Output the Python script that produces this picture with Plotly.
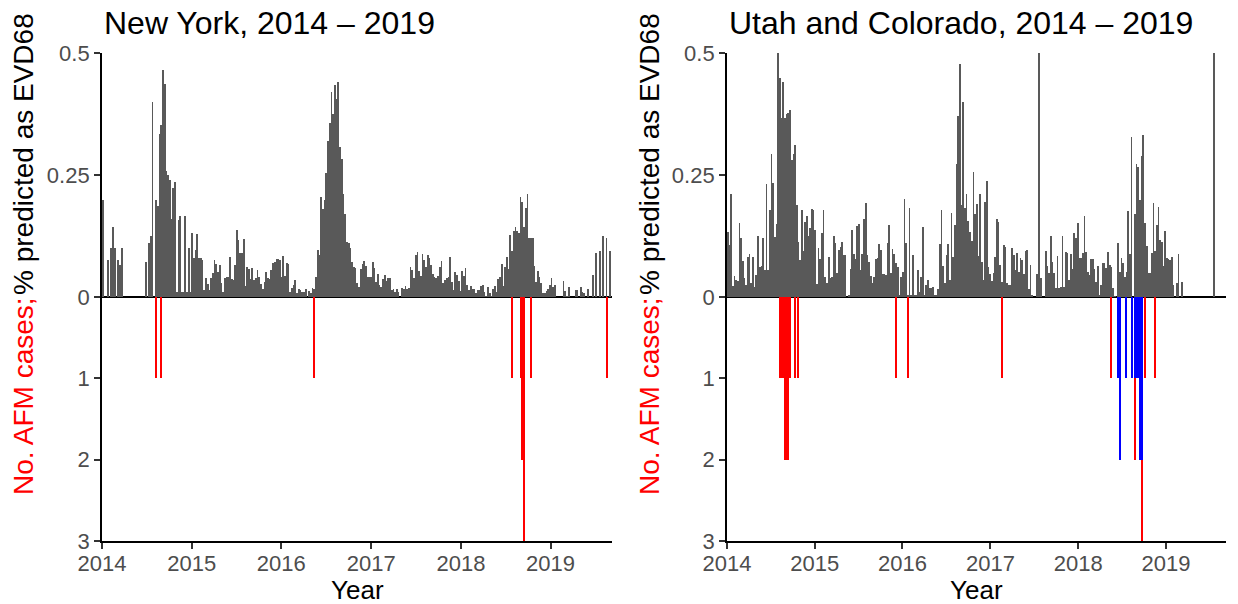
import pandas as pd
import plotly.graph_objects as go

# Weekly share of sequences predicted as EV-D68 (fraction), one value per week
# starting with the week ending 2014-01-04.
ny_pct = [
    0.199, 0, 0, 0.076, 0, 0.10, 0.144, 0.10, 0, 0.076, 0.066, 0.10,
    0, 0, 0, 0, 0, 0, 0, 0, 0, 0, 0, 0, 0,
    0.072, 0, 0.11, 0.126, 0.40, 0,
    0.199, 0.187, 0.334, 0.352, 0.466, 0.436,
    0.258, 0.25, 0.24, 0.16, 0.223, 0.235,
    0.01, 0.158, 0.167, 0.01, 0.01, 0.167, 0.01, 0.10, 0.01, 0.132,
    0.08, 0.096, 0.13, 0.08, 0.08, 0.076, 0.014, 0.038, 0.027, 0.014,
    0.038, 0.05, 0.076, 0.068, 0.052, 0.066, 0.029, 0.011, 0.038, 0.041,
    0.042, 0.081, 0.037, 0.035, 0.066, 0.137, 0.117, 0.091, 0.091, 0.118,
    0.023, 0.061, 0.057, 0.036, 0.059, 0.035, 0.038, 0.055, 0.042, 0.027,
    0.016, 0.031, 0.052, 0.038, 0.036, 0.055, 0.069, 0.072, 0.078, 0.077,
    0.076, 0.042, 0.085, 0.043, 0.069, 0.068, 0.01, 0.018, 0.024, 0.035,
    0.009, 0.016, 0.014, 0.01, 0.01, 0.016, 0.0, 0.013, 0.009, 0.019,
    0.017, 0.042, 0.096, 0.087, 0.204, 0.18, 0.199, 0.255, 0.32, 0.357,
    0.42, 0.376, 0.434, 0.405, 0.44, 0.308, 0.283, 0.212, 0.171, 0.113,
    0.11, 0.10, 0.072, 0.062, 0.059, 0.029, 0.021, 0.057, 0.068, 0.074,
    0.064, 0.04, 0.042, 0.04, 0.072, 0.059, 0.031, 0.048, 0.025, 0.021,
    0.037, 0.045, 0.033, 0.038, 0.038, 0.014, 0.016, 0.011, 0.016, 0.01,
    0.0, 0.018, 0.016, 0.023, 0.017, 0.018, 0.061, 0.055, 0.038, 0.086,
    0.092, 0.054, 0.043, 0.088, 0.076, 0.062, 0.087, 0.079, 0.066, 0.048,
    0.042, 0.038, 0.044, 0.061, 0.074, 0.029, 0.035, 0.038, 0.042, 0.083,
    0.03, 0.014,
    0.051, 0.046, 0.033, 0.013, 0.053, 0.043, 0.059, 0.025, 0.014, 0.023,
    0.016, 0.016, 0.008, 0.014, 0.014, 0.023, 0.025, 0.011, 0.002, 0.02,
    0.008, 0.002, 0.016, 0.023, 0.01, 0.037, 0.042, 0.068, 0.023, 0.061,
    0.082, 0.057, 0.127, 0.095, 0.135, 0.144, 0.135, 0.132, 0.204, 0.195,
    0.143, 0.183, 0.211, 0.121, 0.121, 0.12, 0.064, 0.031, 0.054, 0.04,
    0.028, 0.008, 0.008, 0.013, 0.017, 0.025, 0.039, 0.021, 0.025,
    0, 0, 0, 0, 0.033, 0.013, 0.002, 0.02, 0, 0, 0, 0.014, 0.014, 0,
    0.02, 0.011, 0.008, 0, 0.016, 0, 0, 0.045, 0, 0.091, 0, 0.094, 0,
    0.125, 0, 0.121, 0, 0.094,
]

ut_co_pct = [
    0.134, 0.107, 0.211, 0.023, 0.043, 0.035, 0.033, 0.151, 0.12, 0.074,
    0.038, 0.025, 0.083, 0.088, 0.028, 0.081, 0.021, 0.045, 0.125, 0.061,
    0.064, 0.12, 0.055, 0.232, 0.055, 0.178, 0.293, 0.234, 0.122, 0.15,
    0.50, 0.448, 0.366, 0.44, 0.366, 0.376, 0.378, 0.383, 0.281, 0.293,
    0.311, 0.189, 0.113, 0.076, 0.178, 0.094, 0.154, 0.166, 0.124, 0.141,
    0.18, 0.178, 0.137, 0.027, 0.1, 0.077, 0.132, 0.178, 0.042, 0.028,
    0.081, 0.038, 0.04, 0.125, 0.111, 0.05, 0.096, 0.103, 0.112, 0.086,
    0.086, 0.0, 0.004, 0.057, 0.137, 0.088, 0.077, 0.145, 0.15, 0.055,
    0.088, 0.159, 0.192, 0.086, 0.072, 0.043, 0.028, 0.042, 0.077, 0.079,
    0.109, 0.096, 0.048, 0.047, 0.045, 0.111, 0.148, 0.05, 0.098, 0.088,
    0.069, 0.062, 0.004, 0.042, 0.052, 0.2,
    0.111, 0.004, 0.183, 0.004, 0.086, 0.004, 0.004, 0.055, 0.011, 0.04,
    0.144, 0.004, 0.025, 0.035, 0.019, 0.019, 0.02, 0.004, 0.004, 0.016,
    0.109, 0.178, 0.064, 0.028, 0.086, 0.109, 0.035, 0.173, 0.083, 0.148,
    0.273, 0.371, 0.477, 0.189, 0.399, 0.182, 0.211, 0.156, 0.134, 0.115,
    0.257, 0.171, 0.191, 0.084, 0.212, 0.072, 0.035, 0.195, 0.238, 0.062,
    0.047, 0.033, 0.05, 0.083, 0.16, 0.153, 0.066, 0.031, 0.107, 0.103,
    0.028, 0.025, 0.025, 0.1, 0.086, 0.055, 0.091, 0.052, 0.079, 0.076,
    0.048, 0.094, 0.096, 0.016, 0.066, 0.004, 0, 0, 0.047, 0.5,
    0.038, 0, 0, 0.094, 0.064, 0.05, 0.125, 0.072, 0.05, 0.018,
    0.084, 0.018, 0.02, 0.125, 0.021, 0.093, 0.091, 0.035, 0.089, 0.057,
    0.132, 0.12, 0.151, 0.079, 0.079, 0.09, 0.166, 0.093, 0.052, 0.045,
    0.077, 0.077, 0.057, 0.031, 0.064, 0.004, 0.025, 0.069, 0.069, 0.059,
    0.093, 0.066, 0.062, 0.018, 0.002, 0, 0.111, 0.052, 0.079, 0.069,
    0.042, 0.052, 0.176, 0.088, 0.327, 0, 0.171, 0.272, 0.267, 0.199,
    0.288, 0.332, 0.151, 0.105, 0.05, 0.05, 0.091, 0.192, 0.094, 0.148,
    0.185, 0.117, 0.113, 0.064, 0.135, 0.079, 0.077, 0.076, 0.083, 0.025,
    0, 0.028, 0.088, 0, 0.031,
    0, 0, 0, 0, 0, 0, 0, 0, 0, 0, 0, 0, 0, 0, 0, 0, 0, 0,
    0.5, 0, 0, 0, 0, 0, 0,
]

week_start = "2014-01-04"

# AFM cases by week of onset
ny_case_dates = ["2014-08-09", "2014-08-30", "2016-05-14", "2018-07-28",
                 "2018-09-01", "2018-09-08", "2018-09-15", "2018-10-13",
                 "2019-08-17"]
ny_case_counts = [1, 1, 1, 1, 1, 2, 3, 1, 1]

ut_case_dates = ["2014-08-09", "2014-08-16", "2014-08-23", "2014-08-30",
                 "2014-09-06", "2014-09-13", "2014-09-20", "2014-10-11",
                 "2014-10-25", "2015-12-05", "2016-01-23", "2017-02-18",
                 "2018-05-19", "2018-08-25", "2018-09-22", "2018-10-06",
                 "2018-11-17"]
ut_case_counts = [1, 1, 1, 2, 2, 2, 1, 1, 1, 1, 1, 1, 1, 2, 3, 1, 1]

co_case_dates = ["2018-06-16", "2018-06-23", "2018-07-21", "2018-08-11",
                 "2018-08-25", "2018-09-01", "2018-09-08", "2018-09-15",
                 "2018-09-22"]
co_case_counts = [1, 2, 1, 1, 1, 1, 1, 2, 2]

year_ticks = ["2014", "2015", "2016", "2017", "2018", "2019"]
pct_ticks = [0.5, 0.25, 0]
case_ticks = [1, 2, 3]
CASE_SCALE = 6  # one case spans 1/6 of the percentage axis

panel_titles = ["New York, 2014 \u2013 2019", "Utah and Colorado, 2014 \u2013 2019"]

# ---------------------------------------------------------------------------
W, H = 1238, 604
FONT = "Liberation Sans, Arial, Helvetica, sans-serif"
GREY = "rgba(89,89,89,0.999)"
WEEK_MS = 7 * 24 * 3600 * 1000
CASE_W = 0.6 * WEEK_MS

weeks = pd.date_range(week_start, periods=len(ny_pct), freq="7D")
weeks2 = pd.date_range(week_start, periods=len(ut_co_pct), freq="7D")


def neg(counts):
    return [-c / CASE_SCALE for c in counts]


fig = go.Figure()
fig.add_bar(x=weeks, y=ny_pct, width=WEEK_MS, marker_color=GREY,
            marker_line_width=0, xaxis="x", yaxis="y")
fig.add_bar(x=pd.to_datetime(ny_case_dates), y=neg(ny_case_counts), width=CASE_W,
            marker_color="#FF0000", marker_line_width=0,
            xaxis="x", yaxis="y")
fig.add_bar(x=weeks2, y=ut_co_pct, width=WEEK_MS, marker_color=GREY,
            marker_line_width=0, xaxis="x2", yaxis="y2")
fig.add_bar(x=pd.to_datetime(ut_case_dates), y=neg(ut_case_counts), width=CASE_W,
            marker_color="#FF0000", marker_line_width=0,
            xaxis="x2", yaxis="y2")
fig.add_bar(x=pd.to_datetime(co_case_dates), y=neg(co_case_counts), width=CASE_W,
            marker_color="#0000FF", marker_line_width=0,
            xaxis="x2", yaxis="y2")

x_range = ["2014-01-01", "2019-09-08"]
tick_dates = [f"{y}-01-01" for y in year_ticks]
y_vals = pct_ticks + [-c / CASE_SCALE for c in case_ticks]
y_text = ["0.5", "0.25", "0"] + [str(c) for c in case_ticks]

dom_left = [102 / W, 612 / W]
dom_right = [727 / W, 1226 / W]
dom_y = [1 - 541 / H, 1 - 53 / H]

axis_common = dict(
    showline=True, linecolor="black", linewidth=1.8, mirror=False,
    ticks="outside", ticklen=6, tickwidth=1.6, tickcolor="#333333",
    tickfont=dict(family=FONT, size=22, color="#4D4D4D"),
    showgrid=False, zeroline=False, fixedrange=True, automargin=False,
)
x_common = dict(type="date", range=x_range, tickvals=tick_dates,
                ticktext=year_ticks, ticklabelstandoff=-4, **axis_common)
y_common = dict(range=[-0.5, 0.5], tickvals=y_vals, ticktext=y_text,
                **axis_common)

fig.update_layout(
    width=W, height=H,
    margin=dict(l=0, r=0, t=0, b=0, pad=0),
    paper_bgcolor="white", plot_bgcolor="white",
    barmode="overlay", bargap=0, bargroupgap=0, showlegend=False,
    font=dict(family=FONT, color="black"),
    xaxis=dict(domain=dom_left, anchor="y", **x_common),
    yaxis=dict(domain=dom_y, anchor="x", **y_common),
    xaxis2=dict(domain=dom_right, anchor="y2", **x_common),
    yaxis2=dict(domain=dom_y, anchor="x2", **y_common),
)

# zero reference line in each panel
for xr, yr in (("x domain", "y"), ("x2 domain", "y2")):
    fig.add_shape(type="line", xref=xr, yref=yr, x0=0, x1=1, y0=0, y1=0,
                  line=dict(color="black", width=2), layer="below")

y_split = 1 - 296 / H
for dom, title, ytitle_x in ((dom_left, panel_titles[0], 23),
                             (dom_right, panel_titles[1], 649)):
    fig.add_annotation(text=title, xref="paper", yref="paper",
                       x=dom[0] + 1 / W, y=1 - 22.5 / H, xanchor="left",
                       yanchor="middle", showarrow=False, borderpad=0,
                       font=dict(family=FONT, size=32, color="black"))
    fig.add_annotation(text="Year", xref="paper", yref="paper",
                       x=(dom[0] + dom[1]) / 2, y=1 - 590 / H,
                       xanchor="center", yanchor="middle", showarrow=False,
                       borderpad=0, font=dict(family=FONT, size=26, color="black"))
    fig.add_annotation(text="% predicted as EVD68", xref="paper", yref="paper",
                       x=ytitle_x / W, y=y_split, textangle=-90,
                       xanchor="center", yanchor="bottom", showarrow=False,
                       borderpad=0, font=dict(family=FONT, size=28, color="black"))
    fig.add_annotation(text="No. AFM cases;", xref="paper", yref="paper",
                       x=ytitle_x / W, y=y_split, textangle=-90,
                       xanchor="center", yanchor="top", showarrow=False,
                       borderpad=0, font=dict(family=FONT, size=28, color="red"))

fig.write_html("out.html")
